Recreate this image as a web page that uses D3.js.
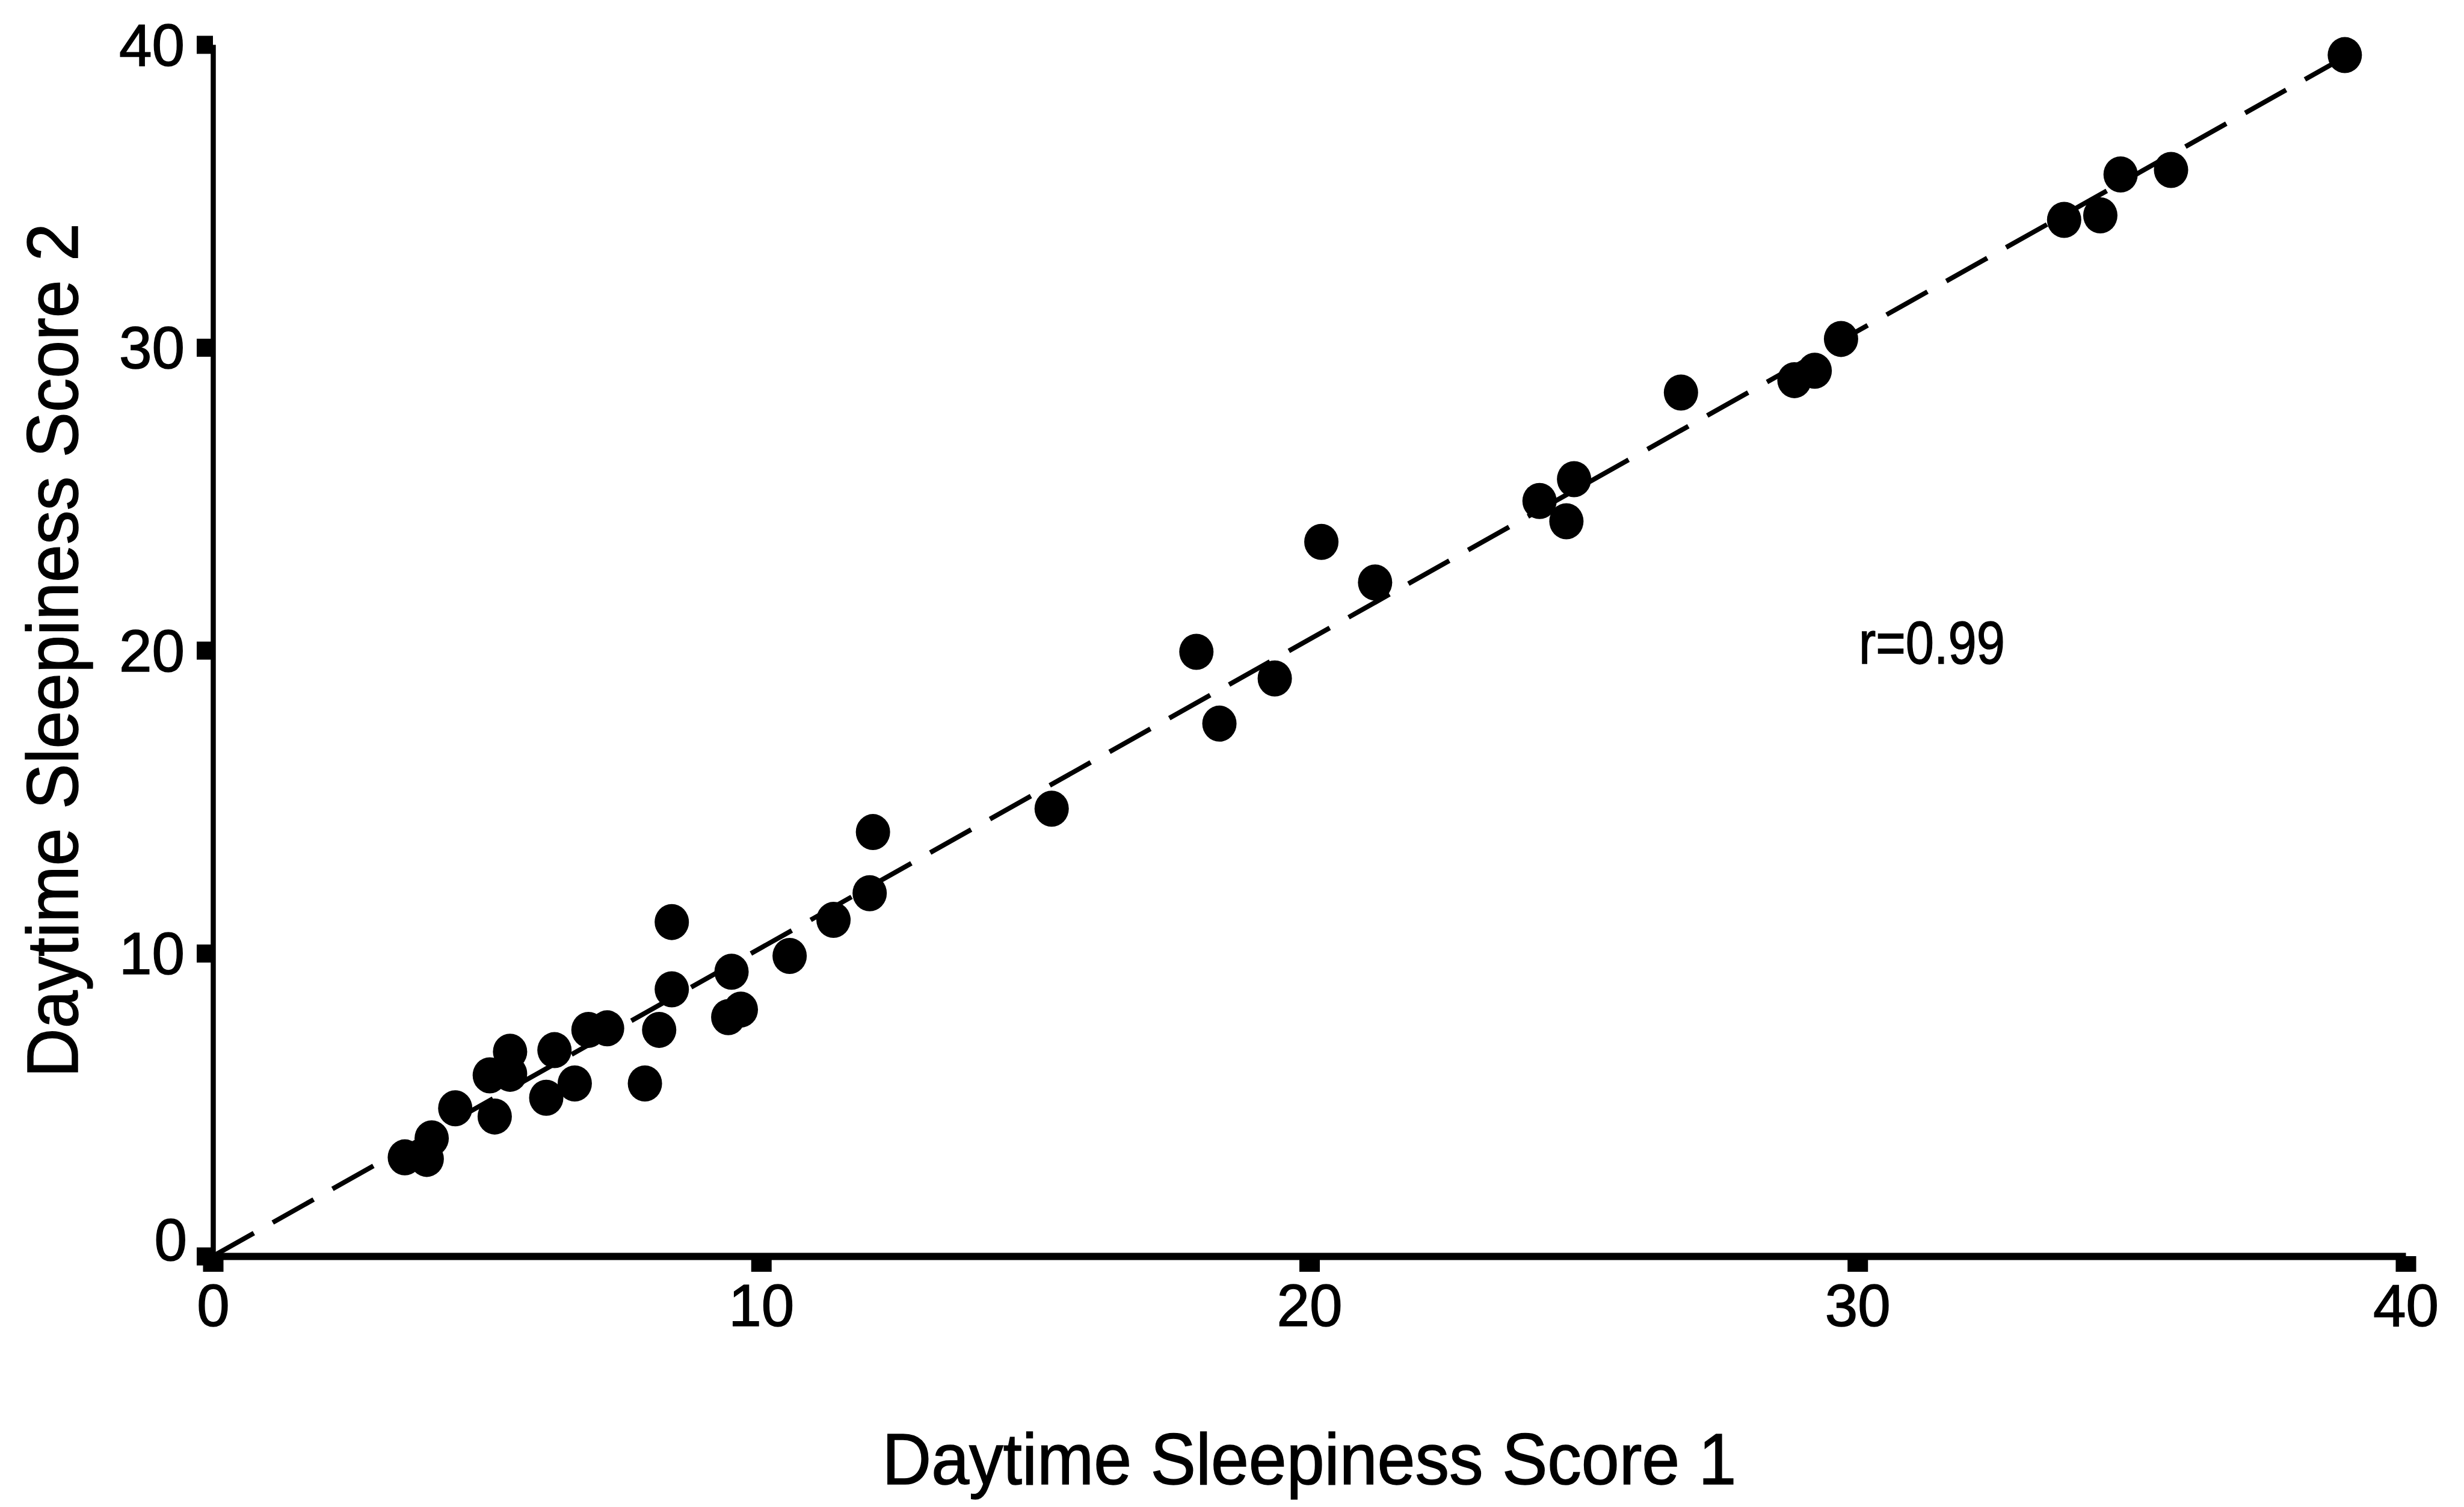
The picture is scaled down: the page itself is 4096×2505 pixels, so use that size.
<!DOCTYPE html>
<html>
<head>
<meta charset="utf-8">
<script src="https://cdn.jsdelivr.net/npm/d3@7"></script>
<style>
  html, body { margin: 0; padding: 0; background: #ffffff; }
  svg { display: block; }
  text { font-family: "Liberation Sans", Arial, sans-serif; fill: #000; stroke: #000; stroke-width: 1.5px; }
</style>
</head>
<body>
<script>
// ---- data ----
const score1 = [38.89, 34.80, 35.72, 33.77, 34.43, 29.70, 28.85, 29.22, 26.78, 24.83,
                24.20, 24.69, 21.20, 20.22, 17.94, 19.37, 18.36, 15.30, 12.04, 11.98,
                11.32, 10.52, 9.46, 9.63, 9.40, 8.37, 8.37, 8.14, 7.88, 7.19,
                6.85, 6.23, 6.60, 6.08, 5.42, 5.05, 5.42, 5.14, 4.42, 3.99,
                3.50, 3.90];
const score2 = [39.65, 35.71, 35.86, 34.21, 34.36, 30.28, 28.92, 29.23, 28.51, 25.65,
                24.93, 24.26, 22.24, 23.58, 19.95, 19.07, 17.58, 14.77, 14.00, 11.98,
                11.10, 9.91, 9.39, 8.14, 7.89, 11.03, 8.81, 7.47, 5.70, 7.52,
                7.47, 6.80, 5.70, 5.23, 6.75, 5.97, 6.02, 4.61, 4.88, 3.89,
                3.26, 3.21];
const fitX = [0, 38.9];
const fitY = [0, 39.6];
const xTicks = [0, 10, 20, 30, 40];
const yTicks = [0, 10, 20, 30, 40];
const xTitle = "Daytime Sleepiness Score 1";
const yTitle = "Daytime Sleepiness Score 2";
const rLabel = "r=0.99";

// ---- drawing ----
const W = 4096, H = 2505;
const svg = d3.select("body").append("svg").attr("width", W).attr("height", H);
svg.append("rect").attr("width", W).attr("height", H).attr("fill", "#fff");

const x = d3.scaleLinear().domain([0, 40]).range([354, 3999]);
const y = d3.scaleLinear().domain([0, 40]).range([2088, 74]);

// regression (dashed) line
const fit = fitX.map((v, i) => [v, fitY[i]]);
svg.append("path")
  .datum(fit)
  .attr("d", d3.line().x(d => x(d[0])).y(d => y(d[1])))
  .attr("fill", "none")
  .attr("stroke", "#000")
  .attr("stroke-width", 8)
  .attr("stroke-dasharray", "78,36");

// points
const pts = score1.map((v, i) => [v, score2[i]]);
svg.append("g").selectAll("ellipse").data(pts).join("ellipse")
  .attr("cx", d => x(d[0]))
  .attr("cy", d => y(d[1]))
  .attr("rx", 28.5)
  .attr("ry", 30)
  .attr("fill", "#000");

// x axis
const gx = svg.append("g").attr("transform", `translate(0,${y(0)})`)
  .call(d3.axisBottom(x).tickValues(xTicks).tickSizeInner(26).tickSizeOuter(0).tickFormat(d3.format("d")));
gx.select(".domain").attr("stroke", "#000").attr("stroke-width", 12);
gx.selectAll(".tick line").attr("stroke", "#000").attr("stroke-width", 34);
gx.selectAll(".tick text")
  .attr("y", 46).attr("dy", "0.71em")
  .attr("font-size", 98)
  .attr("font-family", "Liberation Sans, Arial, sans-serif")
  .attr("fill", "#000");

// y axis
const gy = svg.append("g").attr("transform", `translate(${x(0)},0)`)
  .call(d3.axisLeft(y).tickValues(yTicks).tickSizeInner(27).tickSizeOuter(0).tickFormat(d3.format("d")));
gy.select(".domain").attr("stroke", "#000").attr("stroke-width", 8.5);
gy.selectAll(".tick line").attr("stroke", "#000").attr("stroke-width", 30);
gy.selectAll(".tick text")
  .attr("x", -47).attr("dy", "0.35em")
  .attr("font-size", 98)
  .attr("font-family", "Liberation Sans, Arial, sans-serif")
  .attr("fill", "#000");
gy.selectAll(".tick").filter(d => d === 0).select("text").attr("y", -28).attr("x", -43);

// titles
svg.append("text")
  .attr("x", (x(0) + x(40)) / 2).attr("y", 2467)
  .attr("text-anchor", "middle")
  .attr("font-size", 120)
  .attr("textLength", 1420).attr("lengthAdjust", "spacingAndGlyphs")
  .text(xTitle);

svg.append("text")
  .attr("transform", `translate(129,${(y(0) + y(40)) / 2}) rotate(-90)`)
  .attr("text-anchor", "middle")
  .attr("font-size", 120)
  .attr("textLength", 1420).attr("lengthAdjust", "spacingAndGlyphs")
  .text(yTitle);

// correlation annotation
svg.append("text")
  .attr("x", 3090).attr("y", 1103)
  .attr("font-size", 100)
  .attr("textLength", 243).attr("lengthAdjust", "spacingAndGlyphs")
  .text(rLabel);
</script>
</body>
</html>
